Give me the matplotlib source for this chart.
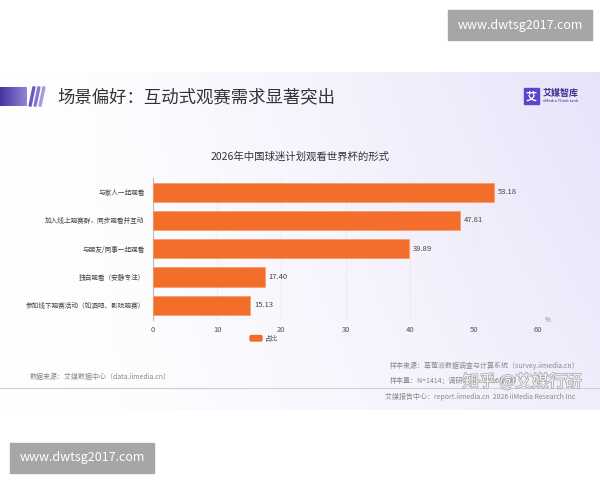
import numpy as np
import matplotlib.pyplot as plt
from matplotlib.patches import Rectangle, Polygon, FancyBboxPatch
import matplotlib.patheffects as pe

plt.rcParams['font.family'] = ['Noto Sans CJK SC', 'DejaVu Sans']

# ---- data ----
categories = ['与家人一起观看', '加入线上观赛群，同步观看并互动', '与朋友/同事一起观看',
              '独自观看（安静专注）', '参加线下观赛活动（如酒吧、影院观赛）']
values = [53.18, 47.81, 39.89, 17.40, 15.13]
x_ticks = [0, 10, 20, 30, 40, 50, 60]

W, H = 600, 480
fig = plt.figure(figsize=(6, 4.8), dpi=100, facecolor='white')

# background layer in pixel coordinates
bg = fig.add_axes([0, 0, 1, 1])
bg.set_xlim(0, W)
bg.set_ylim(H, 0)
bg.axis('off')

# slide gradient: white on the left, light lavender to the right/top
xs = np.linspace(0, 1, 300)
ys = np.linspace(0, 1, 170)
gx, gy = np.meshgrid(xs, ys)
t = np.clip(gx ** 1.3 * (1.0 - 0.35 * gy), 0, 1)
white = np.array([1.0, 1.0, 1.0])
lav = np.array([0.91, 0.89, 0.98])
img = white * (1 - t[..., None]) + lav * t[..., None]
bg.imshow(img, extent=[0, W, 410, 72], aspect='auto', zorder=0)

# title stripe gradient
sx = np.linspace(0, 1, 100)
stripe = np.array([0.27, 0.20, 0.62]) * (1 - sx[:, None]) + np.array([0.58, 0.52, 0.85]) * sx[:, None]
bg.imshow(stripe[None, :, :], extent=[0, 27, 106, 87], aspect='auto', zorder=1)
for i, x0 in enumerate([29, 34, 39]):
    bg.add_patch(Polygon([[x0, 106], [x0 + 2, 106], [x0 + 6, 87], [x0 + 4, 87]],
                         closed=True, color=['#6a5bc4', '#8577d2', '#a59ade'][i], zorder=2))

fig.text(57 / W, 1 - 97 / H, '场景偏好：互动式观赛需求显著突出', fontsize=12.5,
         color='#333333', va='center', ha='left')

# logo
bg.add_patch(Rectangle((524, 88), 15, 16, color='#5b45c9', zorder=2))
bg.text(531.5, 96.5, '艾', color='white', fontsize=8, fontweight='bold', ha='center', va='center', zorder=3)
bg.text(543, 93, '艾媒智库', color='#3a2f8f', fontsize=6.5, fontweight='bold', ha='left', va='center')
bg.text(543, 101.5, 'iiMedia Think tank', color='#3a2f8f', fontsize=3, ha='left', va='center')

# chart title
fig.text(300 / W, 1 - 157 / H, '2026年中国球迷计划观看世界杯的形式', fontsize=7.5,
         color='#333333', ha='center', va='center')

# ---- bar chart ----
ax = fig.add_axes([153 / W, 1 - 319.5 / H, 385 / W, 141.5 / H])
ax.patch.set_alpha(0)
pos = np.arange(len(categories))
bars = ax.barh(pos, values, height=0.68, color='#f36d2b', edgecolor='#f79a66',
               linewidth=0.5, zorder=3)
ax.set_ylim(len(categories) - 0.5, -0.5)
ax.set_xlim(0, 60)
ax.set_xticks(x_ticks)
ax.set_xticklabels([str(v) for v in x_ticks], fontsize=5.5, color='#555555')
ax.set_yticks(pos)
ax.set_yticklabels(categories, fontsize=4.8, color='#444444')
ax.tick_params(length=0, pad=6)
ax.tick_params(axis='x', pad=5)
for s in ['top', 'right', 'bottom']:
    ax.spines[s].set_visible(False)
ax.spines['left'].set_color('#bbbbbb')
ax.spines['left'].set_linewidth(0.8)
ax.grid(axis='x', color='#ebebeb', linewidth=0.6, zorder=0)
ax.set_axisbelow(True)
for b, v in zip(bars, values):
    ax.text(v + 0.6, b.get_y() + b.get_height() / 2, f'{v:.2f}', fontsize=5.5,
            color='#444444', va='center', ha='left')
fig.text(548 / W, 1 - 320 / H, '%', fontsize=4.5, color='#777777', ha='center', va='center')

# legend
bg.add_patch(FancyBboxPatch((250, 335.5), 12, 5.5, boxstyle='round,pad=0,rounding_size=1.5',
                            color='#f36d2b', zorder=2))
bg.text(265, 338.5, '占比', fontsize=4.8, color='#555555', va='center', ha='left')

# footer
foot = '#888888'
bg.text(30, 377, '数据来源：艾媒数据中心（data.iimedia.cn）', fontsize=5, color=foot, va='center')
bg.text(390, 366, '样本来源：草莓派数据调查与计算系统（survey.iimedia.cn）', fontsize=5, color=foot, va='center')
bg.text(390, 380, '样本量：N=1414；调研时间：2026年1月',
        fontsize=5, color=foot, va='center')
bg.plot([0, W], [388, 388], color='#cfcfcf', linewidth=0.8, zorder=2)
bg.text(385, 397, '艾媒报告中心：report.iimedia.cn  2026 iiMedia Research Inc', fontsize=5,
        color=foot, va='center')
bg.text(522, 382, '知乎 @艾媒行研', fontsize=12, color='white', ha='center', va='center', zorder=5,
        alpha=0.9, path_effects=[pe.withStroke(linewidth=1.0, foreground='#9a9a9a')])

# site watermarks
for (x0, y0) in [(448, 10), (10, 443)]:
    bg.add_patch(Rectangle((x0, y0), 144, 30, color='#a6a6a6', zorder=6))
    bg.text(x0 + 72, y0 + 15, 'www.dwtsg2017.com', fontsize=9, color='white',
            ha='center', va='center', zorder=7)

fig.savefig('out.png', dpi=100, facecolor='white')
